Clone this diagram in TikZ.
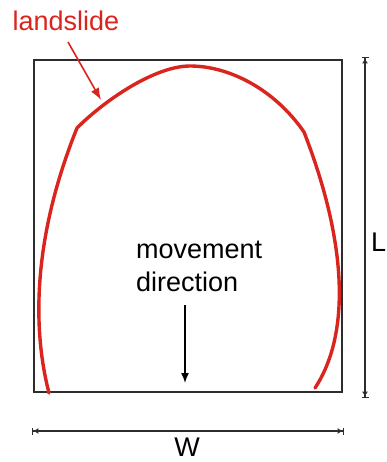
\documentclass[tikz,border=0pt]{standalone}
\usepackage{fontspec}
\setmainfont{Liberation Sans}
\usetikzlibrary{arrows.meta}
\definecolor{slidered}{RGB}{218,36,30}
\definecolor{boxgray}{RGB}{45,45,45}
\begin{document}
\begin{tikzpicture}[x=1pt,y=-1pt,
  lbl/.style={font=\fontsize{27}{32}\selectfont, inner sep=0pt},
  dimline/.style={draw=boxgray, line width=1.1pt,
     {Bar[width=7pt,line width=1.4pt]Latex[length=5pt,width=6pt]}-{Latex[length=5pt,width=6pt]Bar[width=7pt,line width=1.4pt]}},
  pointer/.style={line width=1.5pt, -{Latex[length=10pt,width=8pt]}},
  slide/.style={draw=slidered, line width=3.4pt, line cap=round, line join=round}]
\useasboundingbox (0,0) rectangle (387,462);
% box
\draw[boxgray, line width=1.8pt] (34,60) rectangle (342,392);
% landslide outline
\draw[slide] (49,393) .. controls (34,335) and (30,245) .. (77,128)
  .. controls (105,100) and (155,66) .. (190,66)
  .. controls (230,66) and (275,90) .. (304,132)
  .. controls (348,245) and (350,335) .. (315,388);
\coordinate (onslide) at (101,100);
% landslide label
\node[lbl, text=slidered] (ls) at (66,21) {landslide};
\draw[slidered, line width=1.6pt, -{Latex[length=12pt,width=9pt]}] (68,42) -- (onslide);
% movement direction
\node[lbl, anchor=base west] (mv1) at (136,258) {movement};
\node[lbl, anchor=base west] (mv2) at (136,291) {direction};
\coordinate (mvtop) at (185,305);
\coordinate (mvend) at (185,383);
\draw[pointer, black] (mvtop) -- (mvend);
% dimensions
\coordinate (ltop) at (365,57);
\coordinate (lbot) at (365,398);
\draw[dimline] (ltop) -- (lbot);
\node[lbl, anchor=west] (L) at (371,242) {L};
\coordinate (wleft) at (32,431);
\coordinate (wright) at (344,431);
\draw[dimline] (wleft) -- (wright);
\node[lbl] (W) at (187,447.5) {W};
\end{tikzpicture}
\end{document}
